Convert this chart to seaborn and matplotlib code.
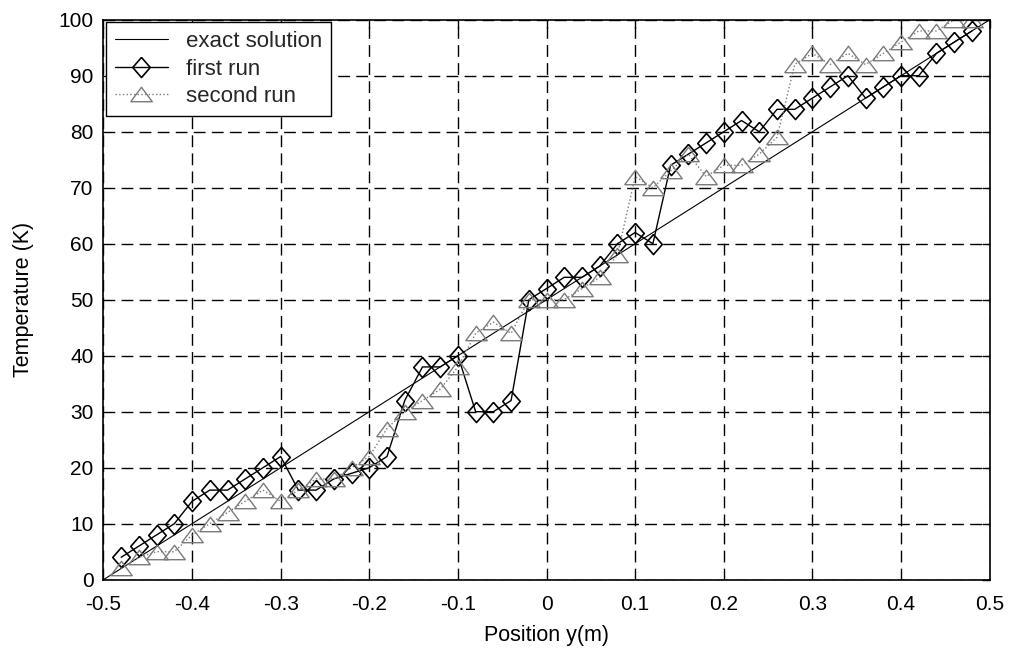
import numpy as np
import pandas as pd
import matplotlib
matplotlib.use("Agg")
import matplotlib.pyplot as plt
import seaborn as sns

# exact solution (straight line between the walls)
exact_y = [-0.5, 0.5]
exact_T = [0, 100]

# sample positions of both runs
run_y = [-0.48, -0.46, -0.44, -0.42, -0.40, -0.38, -0.36, -0.34, -0.32, -0.30,
         -0.28, -0.26, -0.24, -0.22, -0.20, -0.18, -0.16, -0.14, -0.12, -0.10,
         -0.08, -0.06, -0.04, -0.02, 0.00, 0.02, 0.04, 0.06, 0.08, 0.10,
         0.12, 0.14, 0.16, 0.18, 0.20, 0.22, 0.24, 0.26, 0.28, 0.30,
         0.32, 0.34, 0.36, 0.38, 0.40, 0.42, 0.44, 0.46, 0.48]

first_T = [4, 6, 8, 10, 14, 16, 16, 18, 20, 22,
           16, 16, 18, 19, 20, 22, 32, 38, 38, 40,
           30, 30, 32, 50, 52, 54, 54, 56, 60, 62,
           60, 74, 76, 78, 80, 82, 80, 84, 84, 86,
           88, 90, 86, 88, 90, 90, 94, 96, 98]

second_T = [2, 4, 5, 5, 8, 10, 12, 14, 16, 14,
            16, 18, 18, 20, 22, 27, 30, 32, 34, 38,
            44, 46, 44, 50, 50, 50, 52, 54, 58, 72,
            70, 73, 76, 72, 74, 74, 76, 79, 92, 94,
            92, 94, 92, 94, 96, 98, 98, 100, 100]

x_ticks = [-0.5, -0.4, -0.3, -0.2, -0.1, 0, 0.1, 0.2, 0.3, 0.4, 0.5]
x_labels = ['-0.5', '-0.4', '-0.3', '-0.2', '-0.1', '0', '0.1', '0.2', '0.3', '0.4', '0.5']
y_ticks = [0, 10, 20, 30, 40, 50, 60, 70, 80, 90, 100]

# matlab-like markers: slightly tall diamond, wide flat triangle
diamond = [(0, 1.15), (1, 0), (0, -1.15), (-1, 0), (0, 1.15)]
triangle = [(-1, -0.67), (1, -0.67), (0, 0.67), (-1, -0.67)]

sns.set_theme(style="white")
plt.rcParams['font.family'] = ['Liberation Sans', 'DejaVu Sans']

df_exact = pd.DataFrame({'y': exact_y, 'T': exact_T})
df_runs = pd.DataFrame({'y': run_y, 'first': first_T, 'second': second_T})

fig, ax = plt.subplots(figsize=(10.14, 6.58), dpi=100)
fig.subplots_adjust(left=0.102, right=0.976, top=0.970, bottom=0.119)

sns.lineplot(data=df_exact, x='y', y='T', ax=ax, color='black', linewidth=0.8,
             label='exact solution', sort=False)
sns.lineplot(data=df_runs, x='y', y='first', ax=ax, color='black', linewidth=1.0,
             marker=diamond, markersize=14.5, markerfacecolor='none',
             markeredgecolor='black', markeredgewidth=1.2,
             label='first run', sort=False)
sns.lineplot(data=df_runs, x='y', y='second', ax=ax, color='#7a7a7a', linewidth=1.0,
             linestyle=':', marker=triangle, markersize=15.5, markerfacecolor='none',
             markeredgecolor='#7a7a7a', markeredgewidth=1.0,
             label='second run', sort=False)

ax.set_xlim(-0.5, 0.5)
ax.set_ylim(0, 100)
ax.set_xticks(x_ticks)
ax.set_xticklabels(x_labels)
ax.set_yticks(y_ticks)
ax.tick_params(axis='both', which='both', direction='in', length=6, width=1,
               labelsize=15, colors='black', top=True, right=True)
ax.tick_params(axis='x', pad=11)
ax.tick_params(axis='y', pad=7)

ax.grid(True, color='black', linestyle=(0, (8.5, 4.5)), linewidth=1)
ax.set_axisbelow(True)
for sp in ax.spines.values():
    sp.set_color('black')
    sp.set_linewidth(1.2)

ax.set_xlabel('Position y(m)', fontsize=15.5, color='black', labelpad=8)
ax.set_ylabel('Temperature (K)', fontsize=15.5, color='black', labelpad=18)

leg = ax.legend(loc='upper left', fontsize=16, fancybox=False, framealpha=1,
                edgecolor='black', borderaxespad=0.1, handlelength=2.4,
                handletextpad=0.8, labelspacing=0.3, borderpad=0.4)
leg.get_frame().set_linewidth(1.0)

plt.savefig('out.png', dpi=100)
plt.close()
